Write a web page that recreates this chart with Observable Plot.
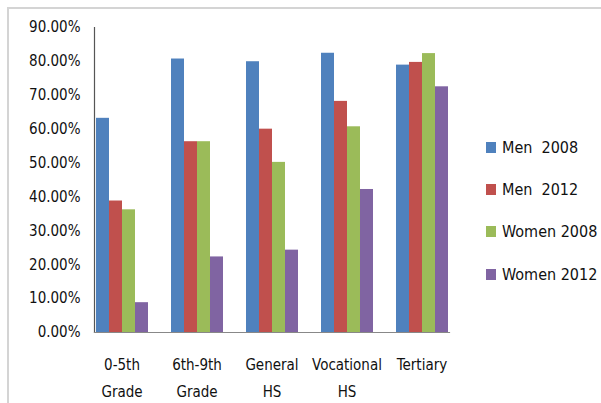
<!DOCTYPE html>
<html>
<head>
<meta charset="utf-8">
<script src="https://cdn.jsdelivr.net/npm/d3@7"></script>
<script src="https://cdn.jsdelivr.net/npm/@observablehq/plot@0.6"></script>
<style>
  html, body { margin: 0; padding: 0; background: #fff; }
  #wrap { position: relative; width: 601px; height: 403px; overflow: hidden;
          font-family: "DejaVu Sans Condensed", sans-serif; }
  #frame { position: absolute; left: 7px; top: 7px; width: 600px; height: 400px;
           border-top: 2px solid #d4d4d4; border-left: 2px solid #d4d4d4; }
  #chart { position: absolute; left: 0; top: 0; }
  #legend { position: absolute; left: 486px; top: 126px; font-size: 16px; color: #111; }
  .item { display: flex; align-items: center; height: 42.3px; white-space: pre; }
  .sw { width: 10px; height: 11px; margin-right: 6px; flex: none; }
</style>
</head>
<body>
<div id="wrap">
  <div id="frame"></div>
  <div id="chart"></div>
  <div id="legend"></div>
</div>
<script>
const categories = ["0-5th Grade", "6th-9th Grade", "General HS", "Vocational HS", "Tertiary"];
const categoryLabels = ["0-5th\nGrade", "6th-9th\nGrade", "General\nHS", "Vocational\nHS", "Tertiary"];
const seriesNames = ["Men  2008", "Men  2012", "Women 2008", "Women 2012"];
const men2008 = [0.632, 0.807, 0.799, 0.824, 0.789];
const men2012 = [0.388, 0.563, 0.600, 0.682, 0.797];
const women2008 = [0.362, 0.563, 0.502, 0.607, 0.823];
const women2012 = [0.088, 0.223, 0.243, 0.422, 0.725];
const yTicks = [0, 0.1, 0.2, 0.3, 0.4, 0.5, 0.6, 0.7, 0.8, 0.9];
const colors = ["#4F81BD", "#C0504D", "#9BBB59", "#8064A2"];

const seriesValues = [men2008, men2012, women2008, women2012];
const data = [];
categories.forEach((c, i) => {
  seriesNames.forEach((s, j) => data.push({category: c, series: s, value: seriesValues[j][i]}));
});
const labelOf = new Map(categories.map((c, i) => [c, categoryLabels[i]]));
const font = '"DejaVu Sans Condensed", sans-serif';

const chart = Plot.plot({
  width: 601,
  height: 403,
  marginLeft: 82,
  marginRight: 141,
  marginTop: 27,
  marginBottom: 71,
  style: {fontFamily: font, fontSize: "15px", color: "#111", background: "transparent"},
  fx: {domain: categories, paddingInner: 0.27, paddingOuter: 0.135, label: null, axis: null},
  x: {domain: seriesNames, padding: 0, axis: null},
  y: {domain: [0, 0.9], label: null},
  color: {domain: seriesNames, range: colors},
  marks: [
    Plot.frame({anchor: "left", stroke: "#555", strokeWidth: 1.2, facet: "super"}),
    Plot.frame({anchor: "bottom", stroke: "#888", strokeWidth: 1.2, facet: "super"}),
    Plot.barY(data, {fx: "category", x: "series", y: "value", fill: "series"}),
    Plot.axisY({ticks: yTicks, tickFormat: d3.format(".2%"), tickSize: 0, tickPadding: 14, fontSize: 15, fill: "#111"}),
    Plot.axisFx({anchor: "bottom", tickFormat: d => labelOf.get(d), tickSize: 0, tickPadding: 18, fontSize: 15, lineHeight: 1.8, fill: "#111", label: null})
  ]
});
document.getElementById("chart").appendChild(chart);

const legend = document.getElementById("legend");
seriesNames.forEach((s, i) => {
  const item = document.createElement("div");
  item.className = "item";
  const sw = document.createElement("span");
  sw.className = "sw";
  sw.style.background = colors[i];
  const t = document.createElement("span");
  t.textContent = s;
  item.appendChild(sw);
  item.appendChild(t);
  legend.appendChild(item);
});
</script>
</body>
</html>
